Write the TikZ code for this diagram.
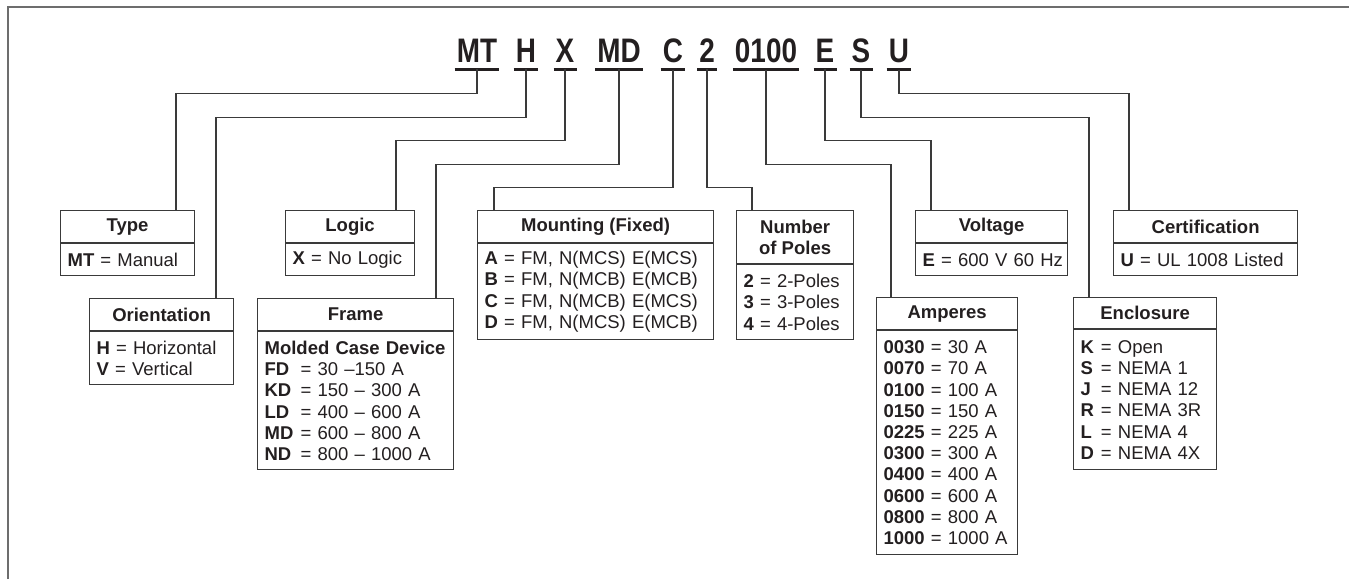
\documentclass[tikz,border=0pt]{standalone}
\usepackage{fontspec}
\setmainfont{Liberation Sans}
\newfontfamily\codefont[FakeStretch=0.82]{Liberation Sans}
\usetikzlibrary{positioning}
\definecolor{ink}{HTML}{231F20}
\definecolor{linec}{HTML}{3A3A3A}
\definecolor{framec}{HTML}{6D6D6D}
\newcommand{\boxfont}{\fontsize{18.5}{21.2}\selectfont}
\newcommand{\fcode}[1]{\makebox[1.95em][l]{\textbf{#1}}}
\newcommand{\ecode}[1]{\makebox[1.1em][l]{\textbf{#1}}}

\begin{document}
\begin{tikzpicture}[x=1pt, y=-1pt,
  code/.style={font=\codefont\bfseries\fontsize{34}{34}\selectfont, text=ink,
               anchor=base, inner xsep=2pt, inner ysep=7pt},
  uline/.style={draw=ink, line width=3pt},
  head/.style={draw=linec, line width=1.2pt, anchor=north west,
               minimum width=#1, minimum height=32pt, inner sep=0pt,
               align=center, font=\boxfont\bfseries, text=ink},
  body/.style={draw=linec, line width=1.2pt, text width=#1, inner xsep=7pt,
               inner ysep=0pt, align=left, font=\boxfont, text=ink},
  link/.style={draw=linec, line width=1.2pt}
]
\useasboundingbox (0,0) rectangle (1349,579);

% page frame
\draw[framec, line width=2pt, line join=miter] (7.5,579) -- (7.5,6.7) -- (1349,6.7);

% catalog number
\node[code] (cMT) at (477,62) {MT};
\node[code] (cH) at (526,62) {H};
\node[code] (cX) at (565,62) {X};
\node[code] (cMD) at (619,62) {MD};
\node[code] (cC) at (673,62) {C};
\node[code] (cTwo) at (707,62) {2};
\node[code] (cAmp) at (766,62) {0100};
\node[code] (cE) at (825,62) {E};
\node[code] (cS) at (861,62) {S};
\node[code] (cU) at (899,62) {U};
\foreach \c in {cMT,cH,cX,cMD,cC,cTwo,cAmp,cE,cS,cU}
  \draw[uline] (\c.south west) -- (\c.south east);

% upper row of boxes
\node[head=134pt] (type) at (60,210) {Type};
\node[body=120pt, minimum height=32pt, below=0pt of type] (typeb)
  {\textbf{MT} = Manual};

\node[head=129pt] (logic) at (285,210) {Logic};
\node[body=115pt, minimum height=32pt, below=0pt of logic] (logicb)
  {\textbf{X} = No Logic};

\node[head=236pt] (mount) at (477,210) {Mounting (Fixed)};
\node[body=222pt, minimum height=96pt, below=0pt of mount] (mountb) {
  \textbf{A} = FM, N(MCS) E(MCS)\\
  \textbf{B} = FM, N(MCB) E(MCB)\\
  \textbf{C} = FM, N(MCB) E(MCS)\\
  \textbf{D} = FM, N(MCS) E(MCB)};

\node[head=117pt, minimum height=53pt] (poles) at (736,210) {Number\\of Poles};
\node[body=103pt, minimum height=75pt, below=0pt of poles] (polesb) {
  \textbf{2} = 2-Poles\\
  \textbf{3} = 3-Poles\\
  \textbf{4} = 4-Poles};

\node[head=152pt] (volt) at (915,210) {Voltage};
\node[body=138pt, minimum height=32pt, below=0pt of volt] (voltb)
  {\mbox{\textbf{E} = 600 V 60 Hz}};

\node[head=184pt] (cert) at (1113,210) {Certification};
\node[body=170pt, minimum height=32pt, below=0pt of cert] (certb)
  {\textbf{U} = UL 1008 Listed};

% lower row of boxes
\node[head=144pt] (orient) at (89,298) {Orientation};
\node[body=130pt, minimum height=53pt, below=0pt of orient] (orientb) {
  \textbf{H} = Horizontal\\
  \textbf{V} = Vertical};

\node[head=196pt] (frame) at (257,298) {Frame};
\node[body=182pt, minimum height=138pt, below=0pt of frame] (frameb) {
  \textbf{Molded~Case~Device}\\
  \fcode{FD}= 30 –150 A\\
  \fcode{KD}= 150 – 300 A\\
  \fcode{LD}= 400 – 600 A\\
  \fcode{MD}= 600 – 800 A\\
  \fcode{ND}= 800 – 1000 A};

\node[head=141pt] (amps) at (876,297) {Amperes};
\node[body=127pt, minimum height=224pt, below=0pt of amps] (ampsb) {
  \textbf{0030} = 30 A\\
  \textbf{0070} = 70 A\\
  \textbf{0100} = 100 A\\
  \textbf{0150} = 150 A\\
  \textbf{0225} = 225 A\\
  \textbf{0300} = 300 A\\
  \textbf{0400} = 400 A\\
  \textbf{0600} = 600 A\\
  \textbf{0800} = 800 A\\
  \textbf{1000} = 1000 A};

\node[head=143pt, minimum height=31pt] (encl) at (1073,297) {Enclosure};
\node[body=129pt, minimum height=140pt, below=0pt of encl] (enclb) {
  \ecode{K}= Open\\
  \ecode{S}= NEMA 1\\
  \ecode{J}= NEMA 12\\
  \ecode{R}= NEMA 3R\\
  \ecode{L}= NEMA 4\\
  \ecode{D}= NEMA 4X};

% leaders
\draw[link] (cMT.south) -- ++(0,24) -| ([xshift=116pt]type.north west);
\draw[link] (cH.south) -- ++(0,48) -| ([xshift=127pt]orient.north west);
\draw[link] (cX.south) -- ++(0,71) -| ([xshift=111pt]logic.north west);
\draw[link] (cMD.south) -- ++(0,95) -| ([xshift=179pt]frame.north west);
\draw[link] (cC.south) -- ++(0,118) -| ([xshift=17pt]mount.north west);
\draw[link] (cTwo.south) -- ++(0,118) -| ([xshift=16pt]poles.north west);
\draw[link] (cAmp.south) -- ++(0,95) -| ([xshift=15pt]amps.north west);
\draw[link] (cE.south) -- ++(0,71) -| ([xshift=16pt]volt.north west);
\draw[link] (cS.south) -- ++(0,48) -| ([xshift=16pt]encl.north west);
\draw[link] (cU.south) -- ++(0,24) -| ([xshift=16pt]cert.north west);

\end{tikzpicture}
\end{document}
